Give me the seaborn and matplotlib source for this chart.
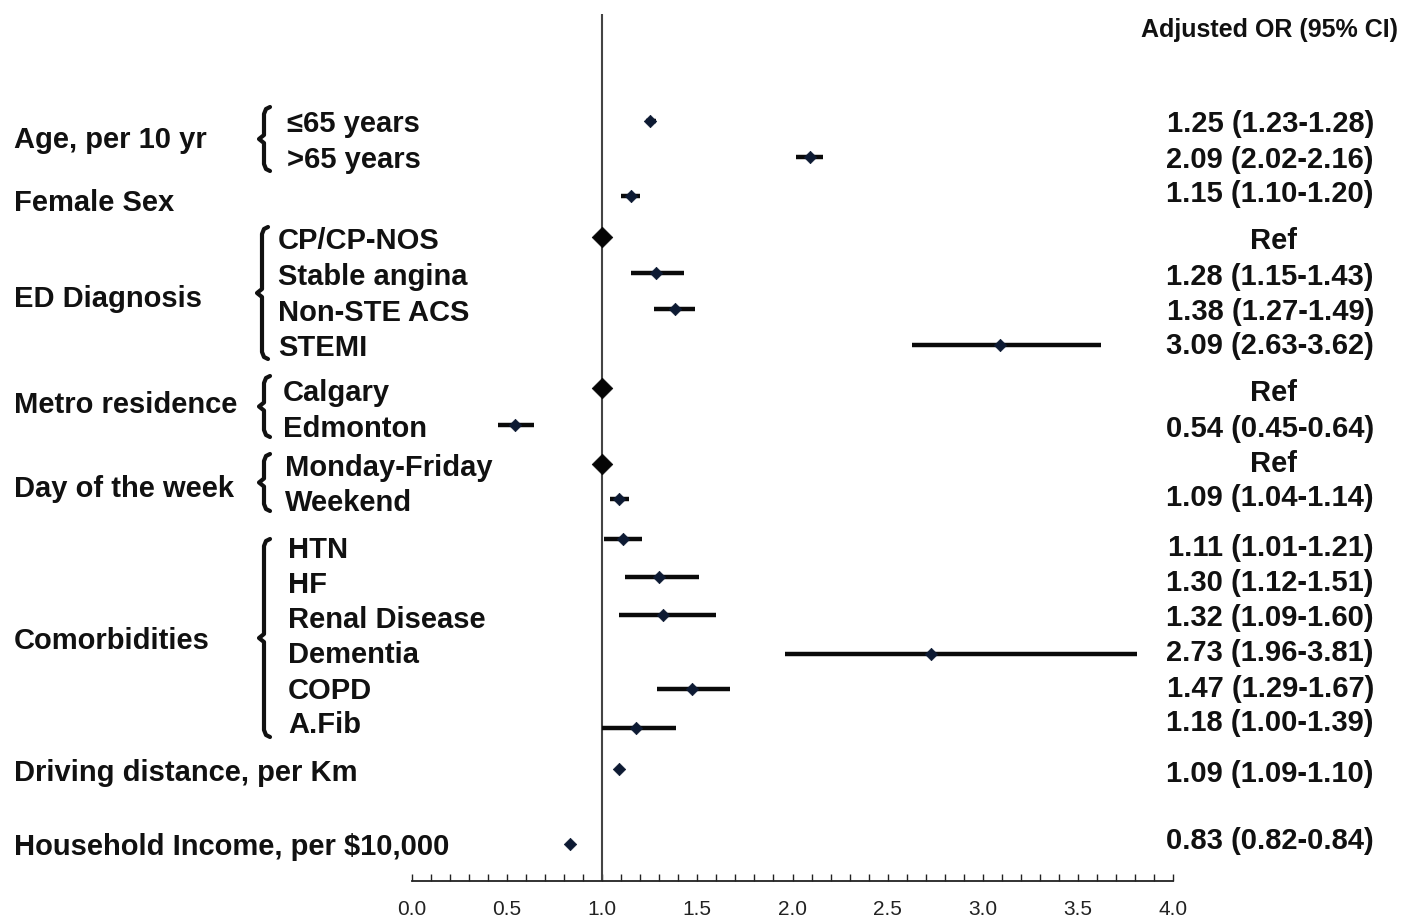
import numpy as np
import pandas as pd
import matplotlib
matplotlib.use("Agg")
import matplotlib.pyplot as plt
import seaborn as sns

# ---------------- data ----------------
groups = ["Age, per 10 yr", "Female Sex", "ED Diagnosis", "Metro residence",
          "Day of the week", "Comorbidities", "Driving distance, per Km",
          "Household Income, per $10,000"]
row_labels = ["\u226465 years", ">65 years", "", "CP/CP-NOS", "Stable angina",
              "Non-STE ACS", "STEMI", "Calgary", "Edmonton", "Monday-Friday",
              "Weekend", "HTN", "HF", "Renal Disease", "Dementia", "COPD",
              "A.Fib", "", ""]
row_group = [0, 0, 1, 2, 2, 2, 2, 3, 3, 4, 4, 5, 5, 5, 5, 5, 5, 6, 7]
or_vals = [1.25, 2.09, 1.15, 1.00, 1.28, 1.38, 3.09, 1.00, 0.54, 1.00, 1.09,
           1.11, 1.30, 1.32, 2.73, 1.47, 1.18, 1.09, 0.83]
ci_low = [1.23, 2.02, 1.10, np.nan, 1.15, 1.27, 2.63, np.nan, 0.45, np.nan, 1.04,
          1.01, 1.12, 1.09, 1.96, 1.29, 1.00, 1.09, 0.82]
ci_high = [1.28, 2.16, 1.20, np.nan, 1.43, 1.49, 3.62, np.nan, 0.64, np.nan, 1.14,
           1.21, 1.51, 1.60, 3.81, 1.67, 1.39, 1.10, 0.84]
is_ref = [False, False, False, True, False, False, False, True, False, True, False,
          False, False, False, False, False, False, False, False]
x_ticks = [0.0, 0.5, 1.0, 1.5, 2.0, 2.5, 3.0, 3.5, 4.0]
header = "Adjusted OR (95% CI)"

# ---------------- layout (pixel rows from top) ----------------
row_pos = [122, 158, 197, 238, 274, 310, 346, 389, 426, 465, 500,
           540, 578, 616, 655, 690, 729, 770, 845]
value_pos = [121, 157, 191, 238, 274, 309, 343, 390, 426, 461, 495,
             545, 580, 615, 650, 686, 720, 771, 838]
sub_pos = [121, 157, 0, 238, 274, 310, 345, 390, 426, 465, 500,
           547, 582, 617, 652, 688, 722, 0, 0]
group_pos = [137, 200, 296, 402, 486, 638, 770, 844]
sub_x_px = {0: 287, 2: 278, 3: 283, 4: 285, 5: 288}
braces = {0: (262, 108, 172), 2: (260, 228, 360), 3: (262, 377, 438),
          4: (262, 455, 512), 5: (262, 540, 738)}
TXT_DY = 3

W, H = 1419, 920
X0, X4 = 412, 1173
AX_TOP, AX_BOT = 15, 882
ppu = (X4 - X0) / 4.0


def px2x(px):
    return (px - X0) / ppu


sns.set_theme(style="white")
plt.rcParams["font.family"] = ["Liberation Sans", "DejaVu Sans"]

fig = plt.figure(figsize=(W / 100, H / 100), dpi=100)
ax = fig.add_axes([X0 / W, 1 - AX_BOT / H, (X4 - X0) / W, (AX_BOT - AX_TOP) / H])
ax.set_xlim(0, 4)
ax.set_ylim(AX_BOT, AX_TOP)

df = pd.DataFrame({"label": row_labels, "or": or_vals, "lo": ci_low,
                   "hi": ci_high, "ref": is_ref, "pos": row_pos})

# reference line
ax.axvline(1.0, color="#444444", lw=1.5, zorder=1)

# confidence intervals
ci = df.dropna(subset=["lo"])
ax.hlines(ci["pos"], ci["lo"], ci["hi"], color="#0a0a0a", lw=3.2, zorder=2)

# point estimates
sns.scatterplot(data=df[~df["ref"]], x="or", y="pos", marker="D", s=40,
                color="#0d1a33", edgecolor="#0d1a33", linewidth=0.5,
                ax=ax, legend=False, zorder=3, clip_on=False)
sns.scatterplot(data=df[df["ref"]], x="or", y="pos", marker="D", s=110,
                color="#050505", edgecolor="#050505", linewidth=0.5,
                ax=ax, legend=False, zorder=3, clip_on=False)

txt_kw = dict(fontsize=21, fontweight="bold", color="#111111", va="center",
              clip_on=False)

# group labels
for g, y in zip(groups, group_pos):
    ax.text(px2x(14), y + TXT_DY, g, ha="left", **txt_kw)

# sub labels
for lab, g, y in zip(row_labels, row_group, sub_pos):
    if lab:
        ax.text(px2x(sub_x_px[g]), y + TXT_DY, lab, ha="left", **txt_kw)

# values
for o, lo, hi, r, y in zip(or_vals, ci_low, ci_high, is_ref, value_pos):
    if r:
        ax.text(px2x(1274), y + TXT_DY, "Ref", ha="center", **txt_kw)
    else:
        ax.text(px2x(1374), y + TXT_DY, f"{o:.2f} ({lo:.2f}-{hi:.2f})",
                ha="right", **txt_kw)

ax.text(px2x(1398), 27 + TXT_DY, header, ha="right", va="center", fontsize=18,
        fontweight="bold", color="#111111", clip_on=False)


# braces
def draw_brace(xpx, ytop, ybot):
    mid = (ytop + ybot) / 2
    xs_px = [xpx + 8, xpx + 4, xpx + 2, xpx + 2, xpx - 3, xpx + 2, xpx + 2, xpx + 4, xpx + 8]
    ys = [ytop, ytop + 2, ytop + 7, mid - 4, mid, mid + 4, ybot - 7, ybot - 2, ybot]
    ax.plot([px2x(v) for v in xs_px], ys, color="#111111", lw=3,
            solid_joinstyle="round", solid_capstyle="round", clip_on=False)


for g, (bx, bt, bb) in braces.items():
    draw_brace(bx, bt, bb)

# axis styling
for s in ["left", "top", "right"]:
    ax.spines[s].set_visible(False)
ax.spines["bottom"].set_color("#222222")
ax.spines["bottom"].set_linewidth(1.3)
ax.set_yticks([])
ax.set_xticks(x_ticks)
ax.set_xticks(np.arange(0, 4.001, 0.1), minor=True)
ax.set_xticklabels([f"{t:.1f}" for t in x_ticks])
ax.tick_params(axis="x", which="both", direction="in", length=5, width=1,
               color="#222222", bottom=True)
ax.tick_params(axis="x", which="major", pad=13, labelsize=15, labelcolor="#222222")
ax.set_xlabel("")
ax.set_ylabel("")

fig.savefig("out.png", dpi=100, facecolor="white")
